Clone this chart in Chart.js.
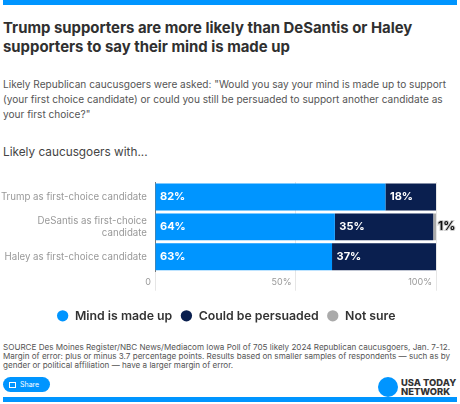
<!DOCTYPE html>
<html>
<head>
<meta charset="UTF-8">
<title>Mind made up</title>
<script src="https://cdn.jsdelivr.net/npm/chart.js"></script>
<style>
  html, body { margin: 0; padding: 0; background: #fff; }
  body { position: relative; width: 460px; height: 404px; overflow: hidden; font-family: Inter, "Open Sans", sans-serif; color: #2b2b2b; }
  .t { position: absolute; left: 3px; white-space: nowrap; }
  .band { position: absolute; left: 3px; width: 454px; height: 5px; background: #0095ff; }
  #title { top: 19px; font-size: 14.9px; line-height: 18.5px; font-weight: 700; color: #303030; }
  #intro { top: 77px; font-size: 10.1px; line-height: 15px; color: #555; }
  #sub { top: 143px; font-size: 11.8px; line-height: 18px; color: #444; }
  #source { top: 343px; font-size: 8.1px; line-height: 9.2px; color: #555; }
  #share { position: absolute; left: 3px; top: 377px; width: 47px; height: 15px; border-radius: 8px; background: #0095ff; color: #fff; font-size: 7px; line-height: 15px; text-indent: 17px; }
  #icon { position: absolute; left: 6px; top: 5px; width: 5px; height: 4px; border: 1px solid #fff; }
  #dot { position: absolute; left: 378px; top: 377px; width: 20px; height: 20px; border-radius: 50%; background: #0095ff; }
  #brand { position: absolute; left: 401px; top: 378px; font-size: 9.4px; line-height: 9px; font-weight: 800; color: #333; white-space: nowrap; }
  #wrap { position: absolute; left: 0; top: 170px; width: 460px; height: 162px; }
</style>
</head>
<body>
<div class="band" style="top:0"></div>
<div class="t" id="title">Trump supporters are more likely than DeSantis or Haley<br>supporters to say their mind is made up</div>
<div class="t" id="intro">Likely Republican caucusgoers were asked: "Would you say your mind is made up to support<br>(your first choice candidate) or could you still be persuaded to support another candidate as<br>your first choice?"</div>
<div class="t" id="sub">Likely caucusgoers with...</div>
<div id="wrap"><canvas id="chart"></canvas></div>
<div class="t" id="source">SOURCE Des Moines Register/NBC News/Mediacom Iowa Poll of 705 likely 2024 Republican caucusgoers, Jan. 7-12.<br>Margin of error: plus or minus 3.7 percentage points. Results based on smaller samples of respondents — such as by<br>gender or political affiliation — have a larger margin of error.</div>
<div id="share"><div id="icon"></div>Share</div>
<div id="dot"></div>
<div id="brand">USA TODAY<br>NETWORK</div>
<div class="band" style="top:397px"></div>

<script>
var categories = ['Trump as first-choice candidate', ['DeSantis as first-choice', 'candidate'], 'Haley as first-choice candidate'];
var mindMadeUp = [82, 64, 63];
var couldBePersuaded = [18, 35, 37];
var notSure = [0, 1, 0];
var tickValues = [0, 50, 100];
var tickLabels = ['0', '50%', '100%'];

// values written on the bars, the small grey one goes outside
var barLabels = {
    id: 'barLabels',
    afterLayout: function (chart) {
        // legend sits a bit right of the plot's centre in the original
        chart.legend.left += 8;
        chart.legend.right += 8;
    },
    afterDatasetsDraw: function (chart) {
        var ctx = chart.ctx;
        ctx.save();
        ctx.textBaseline = 'middle';
        chart.data.datasets.forEach(function (ds, i) {
            chart.getDatasetMeta(i).data.forEach(function (bar, j) {
                var v = ds.data[j];
                if (!v) return;
                var text = v + '%';
                if (i === 2) {
                    ctx.font = '700 12px Inter';
                    ctx.lineWidth = 2;
                    ctx.strokeStyle = '#cfcfcf';
                    ctx.strokeText(text, bar.x + 2, bar.y);
                    ctx.fillStyle = '#111';
                    ctx.fillText(text, bar.x + 2, bar.y);
                } else {
                    ctx.font = '700 11px Inter';
                    ctx.fillStyle = '#fff';
                    ctx.fillText(text, bar.base + 4.5, bar.y);
                }
            });
        });
        ctx.restore();
    }
};

new Chart(document.getElementById('chart'), {
    type: 'bar',
    data: {
        labels: categories,
        datasets: [
            { label: 'Mind is made up', data: mindMadeUp, backgroundColor: '#0095ff' },
            { label: 'Could be persuaded', data: couldBePersuaded, backgroundColor: '#0a1f4f' },
            { label: 'Not sure', data: notSure, backgroundColor: '#aaaaaa' }
        ]
    },
    options: {
        indexAxis: 'y',
        responsive: true,
        maintainAspectRatio: false,
        animation: false,
        layout: { padding: { top: 12, right: 24, left: 0, bottom: 0 } },
        datasets: { bar: { categoryPercentage: 1, barPercentage: 0.9 } },
        scales: {
            x: {
                stacked: true,
                min: 0,
                max: 100,
                afterBuildTicks: function (axis) {
                    axis.ticks = tickValues.map(function (v) { return { value: v }; });
                },
                afterFit: function (axis) { axis.height = 30; },
                grid: { color: '#e6e6e6', tickLength: 19 },
                border: { display: false },
                ticks: {
                    align: 'end',
                    autoSkip: false,
                    padding: -14,
                    labelOffset: -4,
                    maxRotation: 0,
                    color: '#999',
                    font: { family: 'Inter', size: 9 },
                    callback: function (v, i) { return tickLabels[i]; }
                }
            },
            y: {
                stacked: true,
                afterFit: function (axis) { axis.width = 155; },
                grid: { display: false },
                border: { color: '#777', width: 1 },
                ticks: {
                    color: '#999',
                    font: { family: 'Inter', size: 9.7 },
                    padding: 0
                }
            }
        },
        plugins: {
            tooltip: { enabled: false },
            legend: {
                position: 'bottom',
                labels: {
                    usePointStyle: true,
                    pointStyle: 'circle',
                    boxHeight: 8,
                    padding: 8,
                    color: '#333',
                    font: { family: 'Inter', size: 12.3, weight: '600' }
                }
            }
        }
    },
    plugins: [barLabels]
});
</script>
</body>
</html>
